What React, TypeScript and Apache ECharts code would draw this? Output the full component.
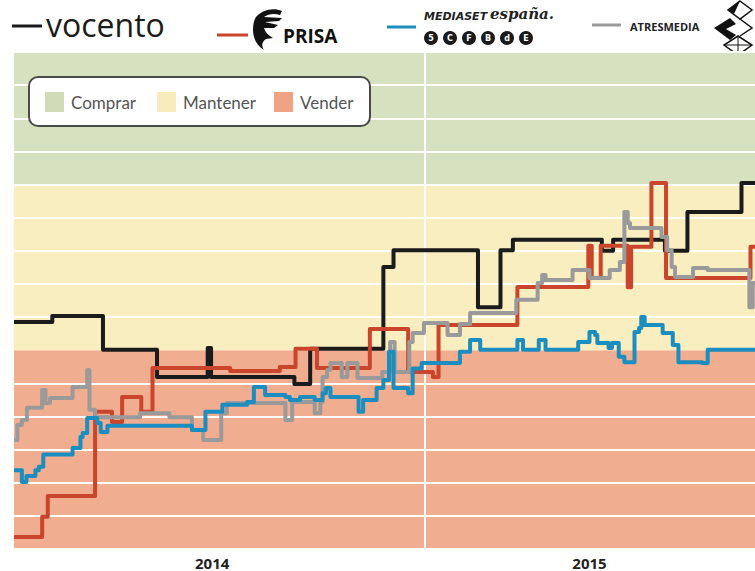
import React, { useEffect, useRef } from 'react';
import * as echarts from 'echarts';

// ---------- data (x = days since 1 Jan 2014, y = recommendation score) ----------
const xMaxDays = 658;
const yearBoundaryDay = 365;
const yearLabels = ['2014', '2015'];
const yearLabelDays = [176, 511];

const bandNames = ['Comprar', 'Mantener', 'Vender'];
const bandColors = ['#d6e2bf', '#f9eec0', '#f0ad90'];
const legendSwatchColors = ['#cfdcb7', '#f8ebbd', '#f0a285'];
const buyFrom = 11; // green band above
const holdFrom = 6; // yellow band between
const yMax = 15;

const companies = ['Vocento', 'Prisa', 'Mediaset España', 'Atresmedia'];
const companyColors = ['#1b1b1b', '#c9452b', '#1c8dbf', '#9a9a9a'];

const vocento: [number, number][] = [
  [0, 6.85], [34, 7.03], [79, 6.01], [127, 5.19], [172, 6.07], [175, 5.19], [249, 4.98], [263, 6.04],
  [328, 8.51], [337, 9.02], [412, 7.3], [432, 9.02], [443, 9.33], [522, 9.0], [532, 9.33], [578, 9.0],
  [598, 10.17], [646, 11.05], [658, 11.05],
];

const prisa: [number, number][] = [
  [0, 0.36], [25, 0.97], [30, 1.6], [72, 4.14], [87, 3.83], [96, 4.59], [113, 4.14], [123, 5.46],
  [192, 5.37], [236, 5.49], [250, 6.04], [269, 5.46], [316, 6.64], [350, 5.34], [372, 5.19], [377, 6.76],
  [447, 7.91], [510, 9.15], [513, 8.18], [521, 9.15], [545, 7.9], [548, 9.12], [566, 11.05], [579, 8.18],
  [654, 9.12], [658, 9.12],
];

const mediaset: [number, number][] = [
  [0, 2.38], [7, 2.02], [11, 2.2], [19, 2.38], [22, 2.48], [26, 2.85], [52, 3.05], [59, 3.38], [61, 3.5],
  [65, 3.95], [74, 3.8], [77, 3.53], [83, 3.72], [158, 3.59], [170, 4.14], [185, 4.35], [207, 4.44],
  [213, 4.89], [223, 4.65], [241, 4.59], [245, 4.5], [254, 4.59], [267, 4.5], [274, 4.7], [277, 4.86],
  [281, 4.59], [306, 4.14], [310, 4.5], [322, 4.86], [328, 5.1], [333, 5.95], [337, 4.86], [350, 4.7],
  [354, 5.45], [362, 5.61], [396, 5.95], [405, 6.31], [414, 6.01], [447, 6.31], [452, 6.01], [466, 6.31],
  [472, 6.01], [501, 6.25], [511, 6.55], [516, 6.46], [518, 6.22], [528, 6.07], [531, 6.22], [537, 5.8],
  [542, 5.64], [551, 6.55], [555, 6.67], [557, 7.0], [560, 6.76], [576, 6.52], [585, 6.16], [590, 5.64],
  [611, 5.61], [616, 6.01], [658, 6.01],
];

const atresmedia: [number, number][] = [
  [0, 3.29], [3, 3.74], [7, 3.89], [11.5, 4.26], [25, 4.8], [28, 4.41], [32, 4.56], [52, 4.89], [65, 5.4],
  [67, 4.2], [72, 3.98], [112, 4.1], [138, 3.98], [158, 3.59], [168, 3.29], [184, 4.1], [189, 4.41],
  [241, 3.89], [247, 4.44], [267, 4.1], [272, 4.44], [274, 5.19], [278, 5.4], [281, 5.61], [291, 5.19],
  [296, 5.61], [305, 5.16], [327, 5.34], [334, 6.25], [338, 5.34], [351, 6.25], [354, 6.52], [364, 6.82],
  [385, 6.46], [396, 6.79], [405, 7.12], [446, 7.52], [465, 8.03], [469, 8.27], [472, 8.12], [496, 8.42],
  [511, 8.18], [529, 8.42], [538, 8.66], [542, 10.17], [545, 9.84], [547, 9.69], [575, 9.42], [580, 9.02],
  [584, 8.51], [587, 8.21], [603, 8.48], [616, 8.42], [653, 7.3], [656, 8.03], [658, 8.03],
];

const seriesData = [vocento, prisa, mediaset, atresmedia];
const drawOrder = [0, 1, 3, 2];

// ---------- logo shapes ----------
const prisaPath =
  'M5 10 C11 3 22 0 31 4 L29 8 C23 6 17 7 13 10 L31 11 L28 14 L14 15 L27 18 L23 21 L13 21 ' +
  'C14 25 17 28 22 31 L15 32 C11 35 10 38 13 43 C6 39 2 31 2 23 C2 17 3 13 5 10 Z';
echarts.graphic.registerShape('prisaLogo', echarts.graphic.extendPath(prisaPath, {}) as any);

export default function App() {
  const ref = useRef<HTMLDivElement>(null);

  useEffect(() => {
    document.body.style.margin = '0';
    const chart = echarts.init(ref.current!, undefined, { renderer: 'svg' });

    const areaColors: string[] = [];
    for (let i = 0; i < yMax; i++) {
      areaColors.push(i >= buyFrom ? bandColors[0] : i >= holdFrom ? bandColors[1] : bandColors[2]);
    }
    const lineColors: string[] = [];
    for (let i = 0; i <= yMax; i++) {
      lineColors.push(i === holdFrom ? 'rgba(255,255,255,0)' : '#ffffff');
    }

    const legendX = [45, 157, 274];
    const legendEls: any[] = [
      {
        type: 'rect',
        shape: { x: 29, y: 77, width: 341, height: 49, r: 9 },
        style: { fill: '#ffffff', stroke: '#4a4a4a', lineWidth: 2 },
        z: 10,
      },
    ];
    bandNames.forEach((n, i) => {
      legendEls.push({
        type: 'rect',
        shape: { x: legendX[i], y: 92, width: 19, height: 20 },
        style: { fill: legendSwatchColors[i] },
        z: 11,
      });
      legendEls.push({
        type: 'text',
        x: legendX[i] + 26,
        y: 102,
        style: {
          text: n,
          fill: '#555555',
          font: '17px Lato, "Open Sans", sans-serif',
          verticalAlign: 'middle',
        },
        z: 11,
      });
    });

    const mediasetIcons = ['5', 'C', 'F', 'B', 'd', 'E'];
    const headerEls: any[] = [
      // Vocento
      { type: 'line', shape: { x1: 12, y1: 26, x2: 42, y2: 26 }, style: { stroke: companyColors[0], lineWidth: 3 } },
      {
        type: 'text', x: 46, y: 24,
        style: { text: 'vocento', fill: '#1b1b1b', font: '32px "Open Sans", sans-serif', verticalAlign: 'middle' },
      },
      // Prisa
      { type: 'line', shape: { x1: 217, y1: 35, x2: 248, y2: 35 }, style: { stroke: companyColors[1], lineWidth: 3 } },
      { type: 'prisaLogo', x: 251, y: 7, scaleX: 1, scaleY: 1, style: { fill: '#111111' } },
      {
        type: 'text', x: 283, y: 36,
        style: { text: 'PRISA', fill: '#111111', font: 'bold 19px "Open Sans", sans-serif', verticalAlign: 'middle' },
      },
      // Mediaset
      { type: 'line', shape: { x1: 387, y1: 27, x2: 416, y2: 27 }, style: { stroke: companyColors[2], lineWidth: 3 } },
      {
        type: 'text', x: 424, y: 16,
        style: { text: 'MEDIASET', fill: '#222222', font: 'italic bold 11px "DejaVu Sans", sans-serif', verticalAlign: 'middle' },
      },
      {
        type: 'text', x: 490, y: 14,
        style: { text: 'españa.', fill: '#222222', font: 'italic bold 15px "DejaVu Serif", serif', verticalAlign: 'middle' },
      },
      // Atresmedia
      { type: 'line', shape: { x1: 592, y1: 25, x2: 621, y2: 25 }, style: { stroke: companyColors[3], lineWidth: 3 } },
      {
        type: 'text', x: 630, y: 26,
        style: { text: 'ATRESMEDIA', fill: '#222222', font: 'bold 11px "Open Sans", sans-serif', verticalAlign: 'middle' },
      },
      { type: 'polygon', shape: { points: [[740, 1], [752, 10], [740, 19], [728, 10]] }, style: { fill: 'none', stroke: '#111', lineWidth: 1.5 } },
      { type: 'polygon', shape: { points: [[728, 10], [740, 1], [734, 14]] }, style: { fill: '#111' } },
      { type: 'polygon', shape: { points: [[714, 28], [730, 18], [736, 24], [726, 29], [736, 35], [730, 40]] }, style: { fill: '#111' } },
      { type: 'polyline', shape: { points: [[740, 19], [752, 28], [740, 36]] }, style: { stroke: '#111', lineWidth: 1.5, fill: 'none' } },
      { type: 'polygon', shape: { points: [[738, 36], [752, 45], [738, 55], [724, 45]] }, style: { fill: 'none', stroke: '#111', lineWidth: 1.5 } },
      { type: 'line', shape: { x1: 724, y1: 45, x2: 752, y2: 45 }, style: { stroke: '#111', lineWidth: 1 } },
      { type: 'line', shape: { x1: 738, y1: 36, x2: 738, y2: 55 }, style: { stroke: '#111', lineWidth: 1 } },
    ];
    const iconX = [431, 450, 469, 488, 507, 526];
    mediasetIcons.forEach((t, i) => {
      headerEls.push({ type: 'circle', shape: { cx: iconX[i], cy: 38, r: 7 }, style: { fill: '#1a1a1a' } });
      headerEls.push({
        type: 'text', x: iconX[i], y: 38,
        style: { text: t, fill: '#ffffff', font: 'bold 8px "DejaVu Sans", sans-serif', align: 'center', verticalAlign: 'middle' },
      });
    });

    const series: any[] = drawOrder.map((k, idx) => ({
      type: 'line',
      name: companies[k],
      step: 'end',
      data: seriesData[k],
      showSymbol: false,
      symbol: 'none',
      z: 3 + idx,
      lineStyle: { color: companyColors[k], width: 4, join: 'round' },
    }));

    chart.setOption({
      animation: false,
      grid: { left: 14, right: 0, top: 52, bottom: 22 },
      xAxis: {
        type: 'value',
        min: 0,
        max: xMaxDays,
        interval: yearBoundaryDay,
        axisLine: { show: false },
        axisTick: { show: false },
        splitLine: {
          show: true,
          showMinLine: false,
          showMaxLine: false,
          lineStyle: { color: '#ffffff', width: 2 },
        },
        axisLabel: {
          customValues: yearLabelDays,
          formatter: (v: number) => {
            let best = 0;
            yearLabelDays.forEach((d, i) => {
              if (Math.abs(d - v) < Math.abs(yearLabelDays[best] - v)) best = i;
            });
            return yearLabels[best];
          },
          color: '#222222',
          fontWeight: 'bold',
          fontSize: 15,
          fontFamily: '"Open Sans", sans-serif',
          margin: 6,
        },
      },
      yAxis: {
        type: 'value',
        min: 0,
        max: yMax,
        interval: 1,
        axisLine: { show: false },
        axisTick: { show: false },
        axisLabel: { show: false },
        splitArea: { show: true, areaStyle: { color: areaColors, opacity: 1 } },
        splitLine: { show: true, lineStyle: { color: lineColors, width: 2 } },
      },
      graphic: [...headerEls, ...legendEls],
      series,
    });

    return () => chart.dispose();
  }, []);

  return <div ref={ref} style={{ width: 755, height: 571 }} />;
}
